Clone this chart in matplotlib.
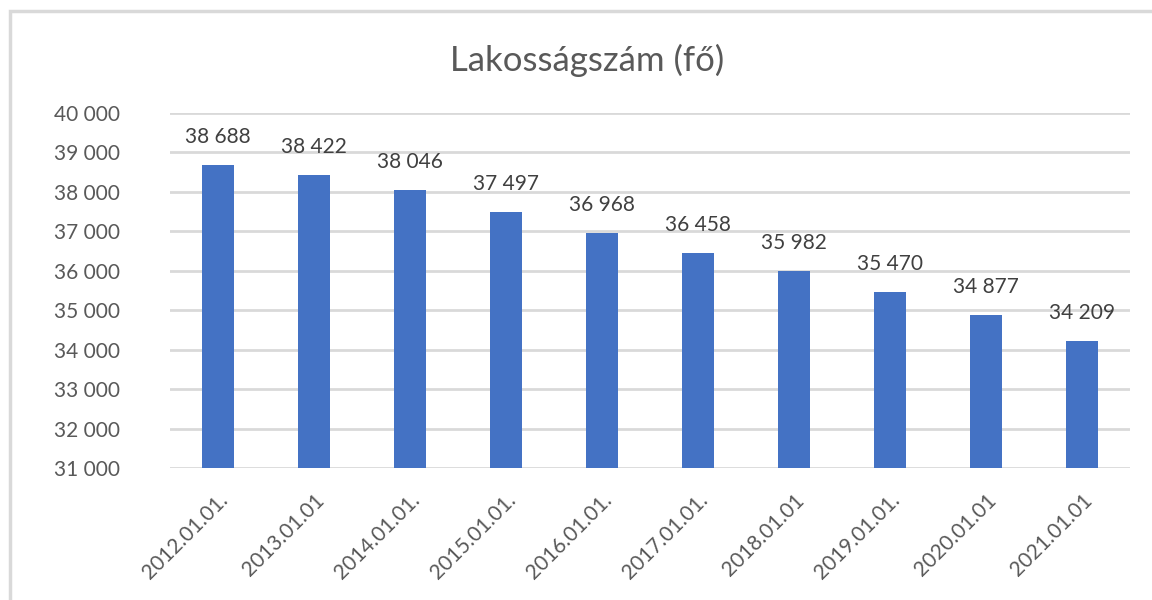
import matplotlib.pyplot as plt
from matplotlib.patches import Rectangle

# adatok
datumok = ["2012.01.01.", "2013.01.01", "2014.01.01.", "2015.01.01.", "2016.01.01.",
           "2017.01.01.", "2018.01.01", "2019.01.01.", "2020.01.01", "2021.01.01"]
lakossag = [38688, 38422, 38046, 37497, 36968, 36458, 35982, 35470, 34877, 34209]

plt.rcParams['font.family'] = ['Lato', 'DejaVu Sans']

fig = plt.figure(figsize=(11.52, 6), dpi=100)
# keret a diagram korul
fig.patches.append(Rectangle((0.0085, -0.01), 1.2, 0.992, transform=fig.transFigure,
                             fill=False, edgecolor='#d9d9d9', linewidth=2.5))
ax = fig.add_axes([0.1476, 0.22, 0.8334, 0.5917])

x = range(len(datumok))
ax.bar(x, lakossag, width=0.33, color='#4472c4', zorder=3)

# ertekek az oszlopok folott
for i, v in zip(x, lakossag):
    szoveg = f"{v:,}".replace(",", " ")
    ax.annotate(szoveg, (i, v), xytext=(0, 13), textcoords='offset points',
                ha='center', va='bottom', fontsize=15, color='#404040')

ax.set_ylim(31000, 40000)
ax.set_xlim(-0.5, len(datumok) - 0.5)
ax.set_yticks(range(31000, 40001, 1000))
ax.set_yticklabels([f"{t:,}".replace(",", " ") for t in range(31000, 40001, 1000)],
                   fontsize=15, color='#595959')
ax.set_xticks(list(x))
ax.set_xticklabels(datumok, rotation=45, ha='right', rotation_mode='anchor',
                   fontsize=15, color='#595959')
ax.tick_params(axis='y', length=0, pad=36)
ax.tick_params(axis='x', length=0, pad=16)
ax.yaxis.grid(True, color='#d9d9d9', linewidth=2, zorder=0)
for s in ax.spines.values():
    s.set_visible(False)

fig.text(0.51, 0.9, 'Lakosságszám (fő)', fontsize=25, color='#595959',
         ha='center', va='center')

plt.savefig('out.png', dpi=100)
